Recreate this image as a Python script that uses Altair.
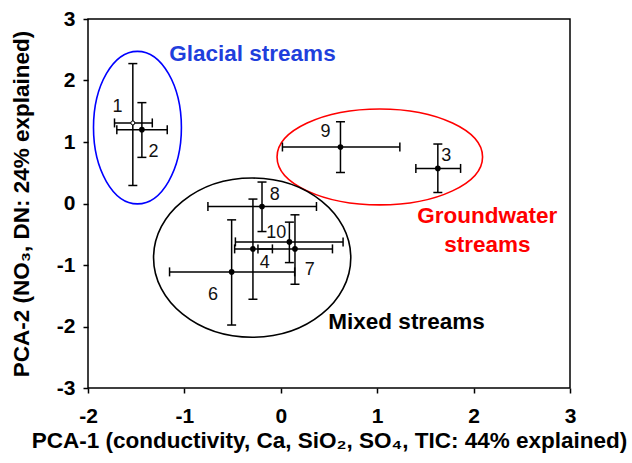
import altair as alt
import pandas as pd

# ---------------- data ----------------
site = ["1", "2", "3", "4", "6", "7", "8", "9", "10"]
pc1 = [-1.535, -1.441, 1.629, -0.289, -0.510, 0.147, -0.195, 0.619, 0.089]
pc1_lo = [-1.725, -1.701, 1.401, -0.479, -1.154, -0.237, -0.756, 0.017, -0.471]
pc1_hi = [-1.333, -1.178, 1.865, -0.087, 0.144, 0.536, 0.370, 1.235, 0.646]
pc2 = [1.31, 1.20, 0.570, -0.738, -1.112, -0.738, -0.049, 0.919, -0.624]
pc2_lo = [0.293, 0.75, 0.179, -1.557, -1.976, -1.313, -0.456, 0.505, -0.961]
pc2_hi = [2.275, 1.64, 0.967, 0.072, -0.266, -0.184, 0.349, 1.33, -0.303]
label_x = [-1.694, -1.32, 1.715, -0.167, -0.704, 0.30, -0.063, 0.463, -0.046]
label_y = [1.575, 0.842, 0.777, -0.971, -1.487, -1.08, 0.142, 1.156, -0.472]
hollow_sites = ["1"]

group_name = ["Glacial streams", "Groundwater streams", "Mixed streams"]
ell_cx = [-1.487, 1.027, -0.297]
ell_cy = [1.234, 0.757, -0.881]
ell_rx = [0.456, 1.066, 1.023]
ell_ry = [1.24, 0.78, 1.295]
ell_color = ["#0000ff", "#ff0000", "#000000"]

ann_text = ["Glacial streams", "Groundwater", "streams", "Mixed streams"]
ann_x = [-0.294, 2.142, 2.142, 1.304]
ann_y = [2.438, -0.2, -0.673, -1.927]
ann_color = ["#1f3fdc", "#ff0000", "#ff0000", "#000000"]

x_ticks = [-2, -1, 0, 1, 2, 3]
y_ticks = [-3, -2, -1, 0, 1, 2, 3]
x_domain = [-2, 3]
y_domain = [-3, 3]

# ---------------- layout ----------------
W, H = 482, 369
FONT = "Liberation Sans"

df = pd.DataFrame({
    "site": site, "pc1": pc1, "pc1_lo": pc1_lo, "pc1_hi": pc1_hi,
    "pc2": pc2, "pc2_lo": pc2_lo, "pc2_hi": pc2_hi,
    "lx": label_x, "ly": label_y,
})
df["hollow"] = df["site"].isin(hollow_sites)

xs = alt.Scale(domain=x_domain, nice=False, zero=False)
ys = alt.Scale(domain=y_domain, nice=False, zero=False)

x_axis = alt.Axis(
    values=x_ticks, labelExpr="'' + datum.value", labelFlush=False,
    title="PCA-1 (conductivity, Ca, SiO\u2082, SO\u2084, TIC: 44% explained)",
    titlePadding=3, labelPadding=12,
)
y_axis = alt.Axis(
    values=y_ticks, labelExpr="'' + datum.value", labelFlush=False,
    title="PCA-2 (NO\u2083, DN: 24% explained)",
    titlePadding=23, labelPadding=8,
)

base = alt.Chart(df)

# ellipses (custom symbol paths, centred through the scales)
K = 0.5523
ell_layers = []
for name, cx, cy, rx, ry, col in zip(group_name, ell_cx, ell_cy, ell_rx, ell_ry, ell_color):
    prx = rx * W / (x_domain[1] - x_domain[0])
    pry = ry * H / (y_domain[1] - y_domain[0])
    m = max(prx, pry)
    a, b = prx / m, pry / m
    path = (f"M{a:.4f},0 C{a:.4f},{K*b:.4f} {K*a:.4f},{b:.4f} 0,{b:.4f} "
            f"C{-K*a:.4f},{b:.4f} {-a:.4f},{K*b:.4f} {-a:.4f},0 "
            f"C{-a:.4f},{-K*b:.4f} {-K*a:.4f},{-b:.4f} 0,{-b:.4f} "
            f"C{K*a:.4f},{-b:.4f} {a:.4f},{-K*b:.4f} {a:.4f},0 Z")
    edf = pd.DataFrame({"group": [name], "cx": [cx], "cy": [cy]})
    ell_layers.append(
        alt.Chart(edf).mark_point(
            shape=path, size=4 * m * m, filled=False, stroke=col,
            strokeWidth=1.6, opacity=1
        ).encode(
            x=alt.X("cx:Q", scale=xs, axis=x_axis),
            y=alt.Y("cy:Q", scale=ys, axis=y_axis),
        )
    )

LW = 1.5
CAP = 9
vbar = base.mark_rule(color="black", strokeWidth=LW).encode(
    x=alt.X("pc1:Q", scale=xs), y=alt.Y("pc2_lo:Q", scale=ys), y2="pc2_hi:Q")
hbar = base.mark_rule(color="black", strokeWidth=LW).encode(
    y=alt.Y("pc2:Q", scale=ys), x=alt.X("pc1_lo:Q", scale=xs), x2="pc1_hi:Q")

cap_lo = base.mark_tick(orient="horizontal", size=CAP, thickness=LW, color="black", opacity=1).encode(
    x=alt.X("pc1:Q", scale=xs), y=alt.Y("pc2_lo:Q", scale=ys))
cap_hi = base.mark_tick(orient="horizontal", size=CAP, thickness=LW, color="black", opacity=1).encode(
    x=alt.X("pc1:Q", scale=xs), y=alt.Y("pc2_hi:Q", scale=ys))
cap_l = base.mark_tick(orient="vertical", size=CAP, thickness=LW, color="black", opacity=1).encode(
    x=alt.X("pc1_lo:Q", scale=xs), y=alt.Y("pc2:Q", scale=ys))
cap_r = base.mark_tick(orient="vertical", size=CAP, thickness=LW, color="black", opacity=1).encode(
    x=alt.X("pc1_hi:Q", scale=xs), y=alt.Y("pc2:Q", scale=ys))

filled_pts = base.transform_filter("!datum.hollow").mark_point(
    shape="circle", filled=True, size=32, color="black", opacity=1
).encode(x=alt.X("pc1:Q", scale=xs), y=alt.Y("pc2:Q", scale=ys))
hollow_pts = base.transform_filter("datum.hollow").mark_point(
    shape="circle", filled=True, size=16, fill="white", stroke="black",
    strokeWidth=1, opacity=1
).encode(x=alt.X("pc1:Q", scale=xs), y=alt.Y("pc2:Q", scale=ys))

labels = base.mark_text(
    font=FONT, fontSize=18, color="#111111", align="center", baseline="middle"
).encode(x=alt.X("lx:Q", scale=xs), y=alt.Y("ly:Q", scale=ys), text="site:N")

adf = pd.DataFrame({"text": ann_text, "x": ann_x, "y": ann_y, "color": ann_color})
ann = alt.Chart(adf).mark_text(
    font=FONT, fontSize=22.5, fontWeight="bold", align="center", baseline="middle"
).encode(
    x=alt.X("x:Q", scale=xs), y=alt.Y("y:Q", scale=ys), text="text:N",
    color=alt.Color("color:N", scale=None),
)

chart = alt.layer(
    *ell_layers, vbar, hbar, cap_lo, cap_hi, cap_l, cap_r,
    filled_pts, hollow_pts, labels, ann
).properties(
    width=W, height=H,
    autosize=alt.AutoSizeParams(type="none"),
    padding={"left": 88, "top": 19, "right": 62, "bottom": 75},
    background="white",
).configure_view(
    stroke="black", strokeWidth=1.5
).configure_axis(
    grid=False, domain=False,
    tickColor="black", tickSize=5, tickWidth=1.5,
    labelFont=FONT, labelFontSize=21, labelFontWeight="bold", labelColor="black",
    titleFont=FONT, titleFontSize=22.5, titleFontWeight="bold", titleColor="black",
    labelOverlap=False,
)

chart.save("out.html", embed_options={"renderer": "svg", "actions": False})
